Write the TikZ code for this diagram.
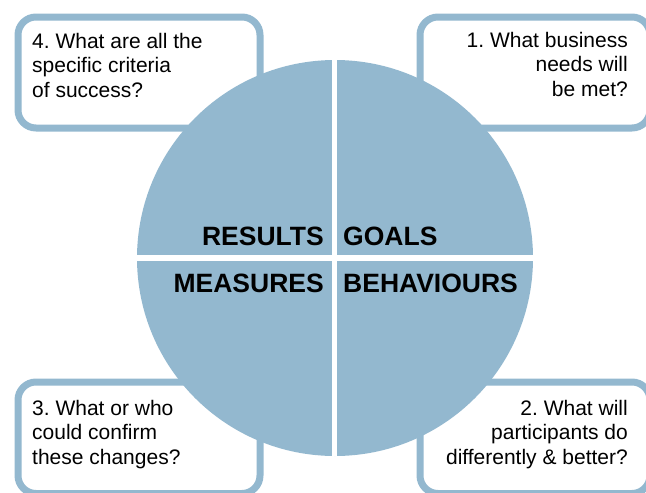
\documentclass[tikz,border=0pt]{standalone}
\usepackage{fontspec}
\setmainfont{Liberation Sans}
\definecolor{ringblue}{HTML}{93B8CF}
\begin{document}
\frenchspacing
\begin{tikzpicture}[x=1pt,y=-1pt,
  qbox/.style={draw=ringblue, line width=7pt, rounded corners=18pt, fill=white, inner sep=0pt, anchor=north west},
  qtext/.style={font=\fontsize{21}{24.5}\selectfont, inner sep=0pt},
  lbl/.style={font=\fontsize{26.5}{30}\selectfont\bfseries, inner sep=0pt},
  gap/.style={draw=white, line width=5.5pt}
]
\useasboundingbox (0,0) rectangle (646,493);
% question boxes
\node[qbox, minimum width=242pt, minimum height=111pt] (b4) at (14.5,13.5) {};
\node[qbox, minimum width=230pt, minimum height=111pt] (b1) at (416.5,13.5) {};
\node[qbox, minimum width=242pt, minimum height=111.5pt] (b3) at (14.5,378.5) {};
\node[qbox, minimum width=230pt, minimum height=111.5pt] (b2) at (416.5,378.5) {};
% circle
\node[circle, fill=ringblue, minimum size=396pt, inner sep=0pt] (c) at (335,258) {};
\draw[gap] (c.north) ++(-0.5,-2) coordinate (vt) -- (c.south -| vt);
\draw[gap] (c.west) ++(-2,0) coordinate (hl) -- ([xshift=2pt]c.east);
% question texts (anchor = baseline of last line)
\node[qtext, anchor=base west, align=left] (t4) at (32,97) {4. What are all the\\specific criteria\\of success?};
\node[qtext, anchor=base east, align=right] (t1) at (628,96) {1. What business\\needs will\\be met?};
\node[qtext, anchor=base west, align=left] (t3) at (32,464) {3. What or who\\could confirm\\these changes?};
\node[qtext, anchor=base east, align=right] (t2) at (628,464) {2. What will\\participants do\\differently \& better?};
% quadrant labels
\node[lbl, anchor=base east] (results) at (324,245) {RESULTS};
\node[lbl, anchor=base west] (goals) at (343,245) {GOALS};
\node[lbl, anchor=base east] (measures) at (324,292) {MEASURES};
\node[lbl, anchor=base west] (behav) at (343,292) {BEHAVIOURS};
\end{tikzpicture}
\end{document}
